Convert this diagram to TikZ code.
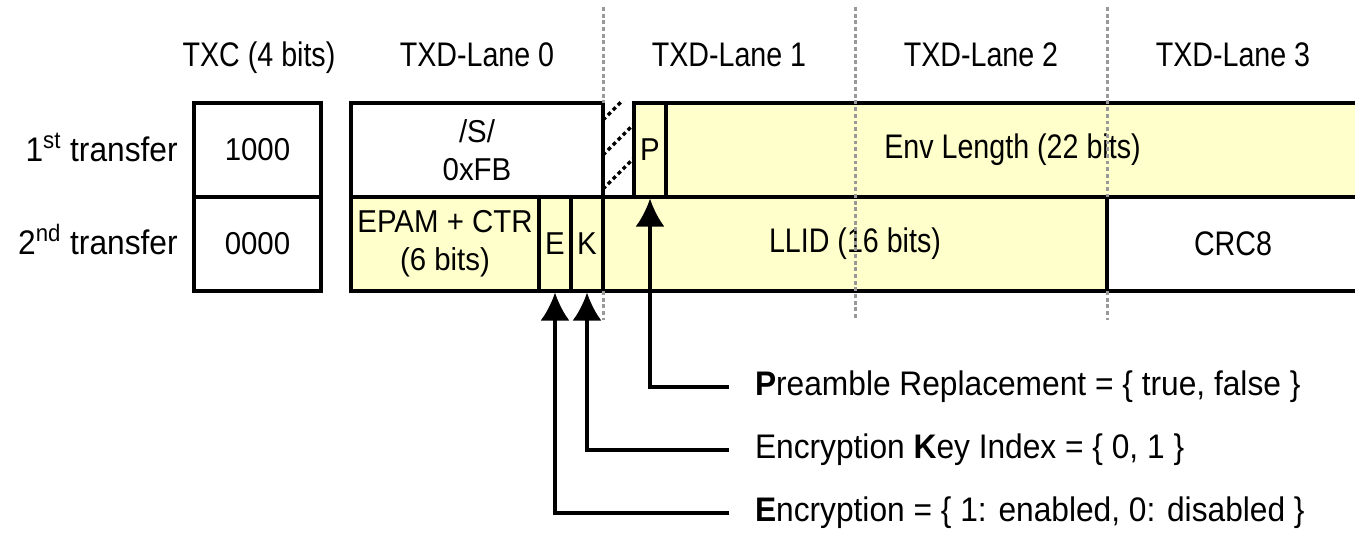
\documentclass[tikz,border=0pt]{standalone}
\usepackage{fontspec}
\setmainfont{Liberation Sans}[FakeStretch=0.93]
\newfontfamily\narrowfont{Liberation Sans}[FakeStretch=0.84]
\usetikzlibrary{arrows.meta}

\definecolor{fieldyellow}{RGB}{255,255,204}
\newcommand{\bigsz}{\fontsize{19.4}{23}\selectfont}
\newcommand{\cellsz}{\fontsize{18}{21.5}\selectfont}

\begin{document}
\begin{tikzpicture}[
    cell/.style  = {rectangle, draw=black, line width=1.8pt, fill=white,
                    minimum height=1.88cm, inner sep=0pt,
                    font=\cellsz, align=center},
    field/.style = {cell, fill=fieldyellow},
    lbl/.style   = {font=\bigsz, inner sep=0pt},
    head/.style  = {font=\narrowfont\bigsz, inner sep=0pt, anchor=base},
    legend/.style = {font=\bigsz, inner sep=0pt, outer xsep=0.52cm,
                     anchor=west},
    arr/.style   = {line width=1.8pt, draw=black,
                    -{Latex[length=0.56cm, width=0.58cm]}},
    lanesep/.style = {draw=black!40, line width=1.7pt,
                      dash pattern=on 2.2pt off 1.6pt},
    hatch/.style = {draw=black, line width=2pt,
                    dash pattern=on 2.2pt off 1.8pt},
]

\useasboundingbox (0,0) rectangle (27.1,10.66);

%% ---- Layout coordinates ----
\def\yHead{9.32}
\def\yA{7.66}
\def\yB{5.78}
\def\xFoot{14.58}

%% ==================================================================
%% HEADERS
%% ==================================================================

\node[head] (htxc) at (5.18, \yHead) {TXC (4 bits)};
\foreach \i/\x in {0/9.54, 1/14.58, 2/19.62, 3/24.66}
    \node[head] (hlane\i) at (\x, \yHead) {TXD-Lane \i};

\node[lbl, anchor=base east] (row1) at (3.56, 7.42) {1\textsuperscript{st} transfer};
\node[lbl, anchor=base east] (row2) at (3.56, 5.56) {2\textsuperscript{nd} transfer};

%% ==================================================================
%% FIELDS
%% ==================================================================

%% 1st transfer
\node[cell, minimum width=2.54cm] (txc1) at (5.15, \yA) {1000};
\node[cell, minimum width=5.04cm] (sfd) at (9.54, \yA) {/S/\\0xFB};
\node[field, minimum width=0.64cm] (pbit) at (13.0, \yA) {P};
\node[field, minimum width=13.86cm, font=\narrowfont\bigsz] (envlen)
    at (20.25, \yA) {Env Length (22 bits)};

%% 2nd transfer
\node[cell, minimum width=2.54cm] (txc2) at (5.15, \yB) {0000};
\node[field, minimum width=3.76cm] (epam) at (8.90, \yB) {EPAM + CTR\\(6 bits)};
\node[field, minimum width=0.64cm] (ebit) at (11.10, \yB) {E};
\node[field, minimum width=0.64cm] (kbit) at (11.74, \yB) {K};
\node[field, minimum width=10.08cm, font=\narrowfont\bigsz] (llid)
    at (17.10, \yB) {LLID (16 bits)};
\node[cell, minimum width=5.04cm, font=\narrowfont\bigsz] (crc)
    at (24.66, \yB) {CRC8};

%% Gap between /S/ and P
\begin{scope}
    \clip (sfd.north east) rectangle (pbit.south west);
    \foreach \y in {8.26, 7.56, 6.88}
        \draw[hatch] (12.06, \y) -- ++(1, 1);
\end{scope}

%% Lane boundaries
\foreach \x/\ya/\yb in {12.06/10.52/8.6, 12.06/4.84/4.26, 17.10/10.52/4.26,
                        22.14/10.52/6.72, 22.14/4.84/4.26}
    \draw[lanesep] (\x, \ya) -- (\x, \yb);

%% ==================================================================
%% LEGEND
%% ==================================================================

\node[legend] (legp) at (\xFoot, 2.92)
    {\textbf{P}reamble Replacement = \{ true, false \}};
\node[legend] (legk) at (\xFoot, 1.66)
    {Encryption \textbf{K}ey Index = \{ 0, 1 \}};
\node[legend] (lege) at (\xFoot, 0.40)
    {\textbf{E}ncryption = \{ 1: enabled, 0: disabled \}};

\draw[arr] (legp.west) -| (pbit.south);
\draw[arr] (legk.west) -| (kbit.south);
\draw[arr] (lege.west) -| (ebit.south);

\end{tikzpicture}
\end{document}
